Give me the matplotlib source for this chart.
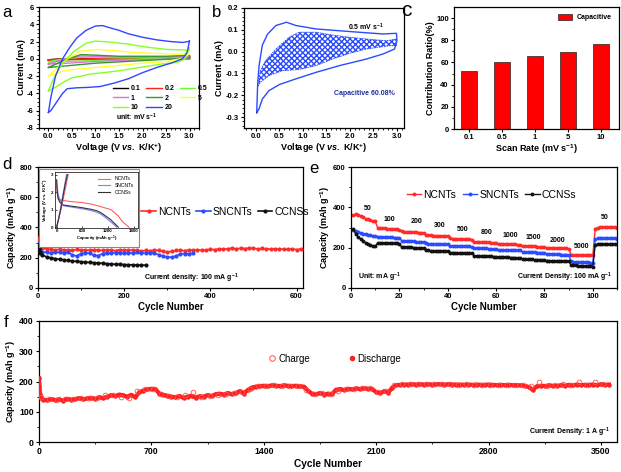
import numpy as np
import matplotlib
matplotlib.use("Agg")
import matplotlib.pyplot as plt
from matplotlib.patches import Rectangle
from matplotlib.lines import Line2D

plt.rcParams['font.family'] = ['Liberation Sans', 'DejaVu Sans']
plt.rcParams['font.weight'] = 'bold'
plt.rcParams['axes.labelweight'] = 'bold'
plt.rcParams['axes.unicode_minus'] = False
plt.rcParams['mathtext.fontset'] = 'custom'
plt.rcParams['mathtext.rm'] = 'Liberation Sans:bold'
plt.rcParams['mathtext.bf'] = 'Liberation Sans:bold'
plt.rcParams['mathtext.it'] = 'Liberation Sans:italic:bold'

# ---------------- data ----------------
# (a) CV curves at different scan rates (mV/s), closed loops
cv_rates = ['0.1', '0.2', '0.5', '1', '2', '5', '10', '20']
cv_colors = ['#000000', '#ff2020', '#66ff33', '#e070e0', '#339933', '#ffff33', '#88ff22', '#3344ff']
cv_v = {
    '0.1': [0.0, 0.3, 0.7, 1.5, 2.5, 3.0, 3.0, 2.0, 1.0, 0.3, 0.0],
    '0.2': [0.0, 0.3, 0.7, 1.5, 2.5, 3.0, 3.0, 2.0, 1.0, 0.4, 0.0],
    '0.5': [0.0, 0.3, 0.7, 1.5, 2.5, 3.0, 3.0, 2.0, 1.0, 0.4, 0.0],
    '1':   [0.0, 0.35, 0.7, 1.5, 2.5, 3.0, 3.0, 2.0, 1.0, 0.4, 0.0],
    '2':   [0.0, 0.4, 0.7, 1.5, 2.5, 3.0, 3.0, 2.0, 1.0, 0.4, 0.0],
    '5':   [0.0, 0.2, 0.4, 0.7, 1.05, 1.4, 1.8, 2.4, 2.98, 3.0, 2.9, 2.5, 2.0, 1.5, 1.0, 0.5, 0.25, 0.1, 0.0],
    '10':  [0.0, 0.1, 0.3, 0.55, 0.8, 1.0, 1.3, 1.7, 2.1, 2.5, 2.98, 3.0, 2.9, 2.75, 2.4, 2.0, 1.6, 1.25, 0.9, 0.7, 0.5, 0.35, 0.15, 0.0],
    '20':  [0.0, 0.05, 0.15, 0.3, 0.45, 0.6, 0.8, 1.0, 1.15, 1.3, 1.5, 1.7, 2.0, 2.3, 2.6, 2.85, 2.97, 3.0,
            2.95, 2.85, 2.6, 2.3, 2.0, 1.7, 1.4, 1.1, 0.85, 0.6, 0.5, 0.4, 0.3, 0.15, 0.05, 0.0],
}
cv_i = {
    '0.1': [-0.1, 0.0, 0.05, 0.05, 0.05, 0.3, 0.0, -0.02, -0.04, -0.07, -0.1],
    '0.2': [-0.15, 0.0, 0.1, 0.07, 0.05, 0.2, 0.0, -0.04, -0.07, -0.1, -0.15],
    '0.5': [-0.35, 0.0, 0.2, 0.12, 0.1, 0.2, 0.0, -0.08, -0.2, -0.3, -0.35],
    '1':   [-0.6, 0.0, 0.35, 0.2, 0.2, 0.3, 0.05, -0.1, -0.3, -0.5, -0.6],
    '2':   [-1.0, 0.0, 0.5, 0.3, 0.3, 0.4, 0.1, -0.2, -0.5, -0.8, -1.0],
    '5':   [-2.0, -1.0, 0.0, 0.9, 1.1, 0.95, 0.75, 0.6, 0.5, 0.7, 0.1, -0.3, -0.5, -0.75, -1.0, -1.25, -1.5, -1.8, -2.0],
    '10':  [-3.7, -2.4, -0.5, 0.9, 1.8, 2.05, 1.95, 1.7, 1.35, 1.1, 1.0, 1.3, 0.0, -0.4, -0.6, -0.95, -1.3, -1.55, -1.75, -2.0, -2.2, -2.6, -3.3, -3.7],
    '20':  [-6.2, -4.5, -2.0, 0.0, 1.3, 2.4, 3.3, 3.8, 3.85, 3.6, 3.3, 2.9, 2.5, 2.2, 2.0, 1.9, 2.0, 2.1,
            0.8, 0.0, -0.5, -1.0, -1.6, -2.3, -2.8, -3.2, -3.3, -3.35, -3.4, -3.45, -4.0, -5.2, -6.0, -6.2],
}

# (b) CV at 0.5 mV/s and capacitive region
b_v = [0.02, 0.04, 0.07, 0.14, 0.25, 0.43, 0.6, 0.65, 0.85, 1.28, 2.0, 2.7, 2.99, 3.0, 2.95, 2.7, 2.35,
       1.78, 1.28, 0.85, 0.5, 0.28, 0.14, 0.07, 0.02]
b_i = [-0.28, -0.15, -0.064, 0.03, 0.08, 0.12, 0.131, 0.135, 0.12, 0.104, 0.092, 0.081, 0.084, 0.05, 0.012,
       -0.011, -0.034, -0.064, -0.095, -0.125, -0.151, -0.179, -0.217, -0.262, -0.28]
cap_v = [0.04, 0.1, 0.21, 0.43, 0.71, 0.92, 1.28, 1.63, 1.99, 2.35, 2.77, 2.99, 2.99, 2.84, 2.35, 1.99,
         1.63, 1.28, 0.92, 0.57, 0.28, 0.1, 0.04]
cap_i = [-0.16, -0.087, -0.041, 0.012, 0.066, 0.089, 0.089, 0.076, 0.066, 0.058, 0.05, 0.058, 0.027, 0.027,
         0.012, -0.008, -0.034, -0.064, -0.082, -0.087, -0.11, -0.14, -0.16]

# (c) capacitive contribution
c_rates = ['0.1', '0.5', '1', '5', '10']
c_ratio = [52.1, 60.0, 66.1, 69.1, 76.7]

# (d) cycling at 100 mA/g
d_cyc_n = [1, 2, 3, 4, 5] + list(range(10, 611, 10))
d_ncnt = [330, 305, 290, 280, 272,
          262, 258, 255, 252, 256, 250, 253, 248, 255, 250,
          252, 249, 254, 251, 248, 252, 250, 247, 253, 250,
          248, 252, 249, 245, 248, 246, 250, 248, 244, 238,
          242, 248, 249, 247, 251, 250, 253, 249, 252, 255,
          254, 258, 256, 260, 262, 259, 263, 261, 264, 262,
          258, 262, 259, 257, 260, 256, 258, 255, 259, 254,
          257]
d_cyc_s = [1, 2, 3, 4, 5] + list(range(10, 361, 10))
d_sncnt = [300, 280, 265, 255, 248,
           240, 236, 234, 238, 235, 232, 236, 218, 212, 228,
           232, 230, 216, 214, 228, 232, 230, 234, 231, 229,
           233, 230, 235, 232, 229, 234, 231, 220, 212, 205,
           203, 212, 224, 228, 226, 230]
d_cyc_c = [1, 2, 3, 4, 5] + list(range(10, 251, 10))
d_ccns = [285, 262, 248, 238, 230,
          218, 206, 199, 194, 190, 186, 182, 179, 176, 174,
          171, 169, 167, 165, 163, 161, 159, 157, 156, 155,
          154, 153, 152, 151, 151]

# inset of (d): first charge/discharge profiles
ins_dis_cap_n = [0, 10, 30, 60, 150, 300, 600, 800, 960, 1100, 1270, 1430, 1550, 1690]
ins_dis_v_n = [2.7, 2.0, 1.65, 1.58, 1.52, 1.47, 1.4, 1.32, 1.22, 1.12, 1.0, 0.66, 0.28, 0.0]
ins_dis_cap_s = [0, 15, 40, 90, 155, 545, 800, 935, 1050, 1130, 1250, 1360, 1400]
ins_dis_v_s = [2.4, 2.25, 1.8, 1.5, 1.22, 1.07, 0.95, 0.85, 0.72, 0.56, 0.33, 0.1, 0.0]
ins_dis_cap_c = [0, 15, 40, 80, 155, 545, 800, 935, 1050, 1130, 1250, 1360, 1440]
ins_dis_v_c = [2.7, 2.0, 1.6, 1.4, 1.26, 1.13, 1.02, 0.94, 0.8, 0.66, 0.45, 0.19, 0.0]
ins_chg_cap_n = [0, 50, 110, 170, 230, 270]
ins_chg_cap_s = [0, 45, 95, 145, 195, 230]
ins_chg_cap_c = [0, 50, 100, 150, 205, 250]
ins_chg_v = [0.0, 0.5, 1.1, 1.8, 2.5, 3.0]

# (e) rate performance
e_cycle = list(range(1, 111))
e_ncnt = [360, 366, 363, 357, 350, 344, 340, 336, 333, 330,
          300, 298, 297, 296, 295, 294, 293, 292, 291, 289,
          281, 280, 279, 278, 277, 277, 276, 275, 275, 274,
          263, 262, 261, 260, 260, 259, 259, 258, 258, 257,
          246, 245, 244, 243, 243, 242, 242, 241, 241, 240,
          229, 228, 228, 227, 227, 226, 226, 225, 225, 225,
          219, 218, 218, 217, 217, 217, 216, 216, 215, 215,
          208, 207, 207, 206, 206, 206, 205, 205, 205, 204,
          200, 199, 199, 198, 198, 197, 197, 196, 196, 195,
          166, 165, 165, 164, 164, 163, 163, 162, 162, 162,
          295, 299, 301, 303, 304, 304, 303, 302, 301, 300]
e_sncnt = [286, 281, 277, 273, 270, 267, 264, 262, 260, 258,
           255, 254, 253, 252, 252, 251, 251, 250, 250, 249,
           234, 233, 232, 232, 231, 231, 230, 230, 229, 229,
           221, 220, 220, 219, 219, 218, 218, 218, 217, 217,
           209, 208, 208, 207, 207, 207, 206, 206, 206, 205,
           198, 197, 197, 196, 196, 196, 195, 195, 195, 194,
           190, 189, 189, 188, 188, 188, 187, 187, 187, 186,
           179, 178, 178, 177, 177, 177, 176, 176, 176, 175,
           169, 168, 168, 167, 167, 167, 166, 166, 166, 165,
           132, 131, 130, 129, 129, 128, 128, 127, 126, 125,
           242, 246, 248, 248, 248, 247, 247, 246, 246, 245]
e_ccns = [292, 266, 252, 241, 232, 224, 217, 212, 208, 206,
          222, 223, 223, 222, 222, 222, 221, 221, 221, 220,
          202, 202, 201, 201, 201, 200, 200, 200, 199, 199,
          186, 186, 185, 185, 185, 184, 184, 184, 183, 183,
          176, 176, 175, 175, 175, 174, 174, 174, 173, 173,
          159, 159, 158, 158, 158, 157, 157, 157, 156, 156,
          153, 153, 152, 152, 152, 151, 151, 151, 150, 150,
          143, 143, 142, 142, 142, 141, 141, 141, 140, 140,
          136, 136, 135, 135, 135, 134, 134, 134, 133, 133,
          114, 113, 112, 111, 111, 110, 109, 108, 107, 106,
          215, 218, 219, 219, 219, 218, 218, 218, 218, 218]
e_rate_labels = ['50', '100', '200', '300', '500', '800', '1000', '1500', '2000', '5000', '50']
e_label_x = [7, 16, 27, 36.5, 46, 56, 66, 75.5, 85.5, 95.5, 105]
e_label_y = [395, 342, 330, 308, 288, 275, 262, 250, 238, 205, 352]

# (f) long cycling at 1 A/g
f_dis_cyc = [1, 3, 6, 12] + list(range(25, 3551, 25))
f_discharge = [210, 185, 160, 145,
               140, 138, 142, 139, 141, 137, 143, 140,
               142, 145, 141, 144, 146, 143, 148, 145,
               150, 155, 152, 157, 154, 150, 156, 148,
               165, 170, 174, 176, 175, 160, 156, 153,
               150, 148, 152, 146, 150, 153, 147, 151,
               150, 155, 152, 158, 160, 157, 162, 158,
               162, 168, 160, 172, 180, 183, 185, 186,
               185, 187, 186, 185, 187, 186, 185, 186,
               184, 183, 170, 160, 158, 162, 157, 160,
               158, 173, 175, 172, 176, 174, 177, 175,
               178, 176, 175, 165, 162, 168, 163, 180,
               188, 189, 190, 190, 191, 190, 191, 190,
               191, 190, 191, 191, 190, 191, 190, 190,
               190, 189, 190, 189, 190, 189, 189, 190,
               189, 188, 189, 188, 189, 188, 188, 187,
               186, 182, 172, 184, 186, 185, 187, 186,
               185, 188, 186, 189, 187, 190, 188, 189,
               189, 190, 188, 191, 189, 190]
f_chg_cyc = list(range(12, 3551, 50))
f_charge = [150, 142, 139, 141, 143, 144, 146, 145,
            154, 156, 150, 146, 168, 176, 174, 158,
            152, 149, 155, 165, 148, 152, 156, 160,
            163, 166, 175, 185, 186, 187, 186, 185,
            185, 172, 160, 163, 158, 170, 174, 176,
            177, 178, 166, 170, 190, 191, 191, 192,
            191, 192, 191, 191, 190, 191, 190, 190,
            189, 189, 188, 188, 189, 186, 197, 185,
            188, 192, 187, 199, 190, 197, 191]

# ---------------- figure ----------------
W, H = 621, 472
fig = plt.figure(figsize=(W / 100, H / 100), dpi=100)


def px_axes(l, r, t, b):
    return fig.add_axes([l / W, 1 - b / H, (r - l) / W, (b - t) / H])


def style(ax, fs=5.5):
    ax.tick_params(which='major', direction='out', length=2.2, width=0.8, labelsize=fs, pad=1.5)
    ax.tick_params(which='minor', direction='out', length=1.2, width=0.6)
    for s in ax.spines.values():
        s.set_linewidth(0.9)


RED = '#ff2a2a'
BLUE = '#2a4bff'
BLACK = '#111111'
LBL = 6.5

# ---- (a)
ax = px_axes(39, 199, 7, 128)
lines = {}
for r, col in zip(cv_rates, cv_colors):
    lines[r], = ax.plot(cv_v[r], cv_i[r], color=col, lw=1.0, label=r)
ax.set_xlim(-0.2, 3.2)
ax.set_ylim(-8, 6)
ax.set_xticks(np.arange(0, 3.01, 0.5))
ax.set_yticks(np.arange(-8, 6.1, 2))
ax.minorticks_on()
style(ax)
ax.set_xlabel(r'Voltage (V $\mathit{vs.}$ K/K$^{+}$)', fontsize=LBL, labelpad=1)
ax.set_ylabel('Current (mA)', fontsize=LBL, labelpad=1)
order = ['0.1', '1', '10', '0.2', '2', '20', '0.5', '5']
ax.legend([lines[k] for k in order], order, ncol=3, fontsize=5, frameon=False,
          loc='upper left', bbox_to_anchor=(0.44, 0.38), handlelength=2.2,
          handletextpad=0.4, columnspacing=0.8, labelspacing=0.35, borderpad=0)
ax.text(1.43, -6.8, 'unit: mV s$^{-1}$', fontsize=5, va='center', ha='left')
fig.text(2 / W, 1 - 17 / H, 'a', fontsize=12, fontweight='normal')

# ---- (b)
ax = px_axes(244, 404, 8, 128)
ax.fill(cap_v, cap_i, facecolor='none', edgecolor='#2a4bff', hatch='xxxxxx', lw=0)
ax.plot(cap_v, cap_i, color='#2a4bff', lw=0.6, ls=(0, (2, 1)))
ax.plot(b_v, b_i, color='#2a4bff', lw=1.0)
ax.set_xlim(-0.25, 3.15)
ax.set_ylim(-0.35, 0.2)
ax.set_xticks(np.arange(0, 3.01, 0.5))
ax.set_yticks([-0.3, -0.2, -0.1, 0.0, 0.1, 0.2])
ax.set_yticklabels(['-0.3', '-0.2', '-0.1', '0.0', '0.1', '0.2'])
ax.minorticks_on()
style(ax)
ax.set_xlabel(r'Voltage (V $\mathit{vs.}$ K/K$^{+}$)', fontsize=LBL, labelpad=1)
ax.set_ylabel('Current (mA)', fontsize=LBL, labelpad=1)
ax.text(1.97, 0.11, '0.5 mV s$^{-1}$', fontsize=5, va='center', ha='left')
ax.text(1.67, -0.19, 'Capacitive 60.08%', fontsize=5, va='center', ha='left', color='#1f2f9f')
fig.text(212 / W, 1 - 17 / H, 'b', fontsize=12, fontweight='normal')

# ---- (c)
ax = px_axes(454, 619, 7, 129)
ax.bar(range(len(c_rates)), c_ratio, width=0.5, color='#ff0000', edgecolor='#222222', lw=0.5,
       label='Capacitive')
ax.set_xlim(-0.45, 4.55)
ax.set_ylim(0, 110)
ax.set_xticks(range(len(c_rates)))
ax.set_xticklabels(c_rates)
ax.set_yticks(np.arange(0, 101, 20))
ax.set_yticks(np.arange(10, 110, 20), minor=True)
style(ax)
ax.set_xlabel('Scan Rate (mV s$^{-1}$)', fontsize=LBL, labelpad=1)
ax.set_ylabel('Contribution Ratio(%)', fontsize=LBL, labelpad=1)
ax.legend(loc='upper right', fontsize=5, frameon=False, handlelength=2.0, handleheight=0.9,
          borderaxespad=0.6)
fig.text(401 / W, 1 - 16 / H, 'c', fontsize=15, fontweight='normal')

# ---- (d)
axd = px_axes(38, 303, 167, 288)
axd.plot(d_cyc_n, d_ncnt, color=RED, marker='o', ms=3.0, lw=1.2, mew=0, label='NCNTs', zorder=3)
axd.plot(d_cyc_s, d_sncnt, color=BLUE, marker='o', ms=3.0, lw=1.2, mew=0, label='SNCNTs', zorder=4)
axd.plot(d_cyc_c, d_ccns, color=BLACK, marker='o', ms=3.0, lw=1.2, mew=0, label='CCNSs', zorder=5)
axd.set_xlim(0, 615)
axd.set_ylim(0, 800)
axd.set_xticks([0, 200, 400, 600])
axd.set_xticks([100, 300, 500], minor=True)
axd.set_yticks(np.arange(0, 801, 200))
axd.set_yticks(np.arange(100, 800, 200), minor=True)
style(axd)
axd.set_xlabel('Cycle Number', fontsize=LBL + 0.5, labelpad=1)
axd.set_ylabel('Capacity (mAh g$^{-1}$)', fontsize=LBL, labelpad=1)
axd.legend(ncol=3, frameon=False, loc='center left', bbox_to_anchor=(0.37, 0.63),
           handlelength=1.4, handletextpad=0.2, columnspacing=0.5, borderpad=0,
           prop={'weight': 'normal', 'size': 7.5})
axd.text(247, 66, 'Current density: 100 mA g$^{-1}$', fontsize=5, va='center', ha='left')
axd.add_patch(Rectangle((39 / W, 1 - 247 / H), 100 / W, 78 / H, transform=fig.transFigure,
                        facecolor='white', edgecolor='#888888', lw=0.8, zorder=10, clip_on=False))
fig.text(2 / W, 1 - 169 / H, 'd', fontsize=12, fontweight='normal')

# inset
axi = px_axes(54.5, 138, 172, 228)
axi.plot(ins_dis_cap_n, ins_dis_v_n, color='#ff6060', lw=0.8, label='NCNTs')
axi.plot(ins_dis_cap_s, ins_dis_v_s, color='#7f7fff', lw=0.8, label='SNCNTs')
axi.plot(ins_dis_cap_c, ins_dis_v_c, color='#333333', lw=0.8, label='CCNSs')
axi.plot(ins_chg_cap_n, ins_chg_v, color='#ff6060', lw=0.8)
axi.plot(ins_chg_cap_s, ins_chg_v, color='#7f7fff', lw=0.8)
axi.plot(ins_chg_cap_c, ins_chg_v, color='#333333', lw=0.8)
axi.set_xlim(-50, 1900)
axi.set_ylim(-0.05, 3.15)
axi.set_xticks([0, 600, 1200, 1800])
axi.set_yticks([0, 1, 2, 3])
axi.tick_params(direction='in', length=1.2, width=0.5, labelsize=3.2, pad=1)
for s in axi.spines.values():
    s.set_linewidth(0.5)
axi.set_xlabel('Capacity (mAh g$^{-1}$)', fontsize=3.2, labelpad=0.5)
axi.set_ylabel(r'Voltage (V $\mathit{vs.}$ K/K$^{+}$)', fontsize=3.2, labelpad=0.5)
axi.legend(loc='upper right', frameon=False, handlelength=2.5, labelspacing=0.3,
           prop={'weight': 'normal', 'size': 3.6})

# ---- (e)
ax = px_axes(351, 617, 167, 288)
ax.plot(e_cycle, e_ncnt, color=RED, marker='o', ms=2.8, lw=1.0, mew=0, label='NCNTs')
ax.plot(e_cycle, e_sncnt, color=BLUE, marker='o', ms=2.8, lw=1.0, mew=0, label='SNCNTs')
ax.plot(e_cycle, e_ccns, color=BLACK, marker='o', ms=2.8, lw=1.0, mew=0, label='CCNSs')
for t, x, y in zip(e_rate_labels, e_label_x, e_label_y):
    ax.text(x, y, t, fontsize=5, ha='center', va='center')
ax.set_xlim(0, 110)
ax.set_ylim(0, 600)
ax.set_xticks(np.arange(0, 101, 20))
ax.set_xticks(np.arange(10, 111, 20), minor=True)
ax.set_yticks(np.arange(0, 601, 200))
ax.set_yticks(np.arange(100, 600, 200), minor=True)
style(ax)
ax.set_xlabel('Cycle Number', fontsize=LBL + 0.5, labelpad=1)
ax.set_ylabel('Capacity (mAh g$^{-1}$)', fontsize=LBL, labelpad=1)
ax.legend(ncol=3, frameon=False, loc='center left', bbox_to_anchor=(0.19, 0.77),
          handlelength=1.4, handletextpad=0.2, columnspacing=0.6, borderpad=0,
          prop={'weight': 'normal', 'size': 7.5})
ax.text(3, 55, 'Unit: mA g$^{-1}$', fontsize=5, va='center', ha='left')
ax.text(108, 55, 'Current Density: 100 mA g$^{-1}$', fontsize=5, va='center', ha='right')
fig.text(309 / W, 1 - 173 / H, 'e', fontsize=12, fontweight='normal')

# ---- (f)
ax = px_axes(39, 617, 321, 442)
ax.plot(f_dis_cyc, f_discharge, color='#ff2020', marker='o', ms=3.2, lw=3.0, mew=0, zorder=3)
ax.plot(f_chg_cyc, f_charge, ls='none', marker='o', ms=3.4, mfc='none', mec='#ff5050', mew=0.6,
        zorder=4)
ax.set_xlim(0, 3600)
ax.set_ylim(0, 400)
ax.set_xticks(np.arange(0, 3501, 700))
ax.set_xticks(np.arange(350, 3600, 700), minor=True)
ax.set_yticks(np.arange(0, 401, 100))
ax.set_yticks(np.arange(50, 400, 100), minor=True)
style(ax, fs=6.3)
ax.set_xlabel('Cycle Number', fontsize=7.3, labelpad=2)
ax.set_ylabel('Capacity (mAh g$^{-1}$)', fontsize=LBL, labelpad=1)
chg_h = Line2D([], [], ls='none', marker='o', ms=4, mfc='none', mec='#ff5050', mew=0.7)
dis_h = Line2D([], [], ls='none', marker='o', ms=4, color='#ff2020', mew=0)
ax.legend([chg_h, dis_h], ['Charge', 'Discharge'], ncol=2, frameon=False, loc='center left',
          bbox_to_anchor=(0.39, 0.69), handlelength=0.6, handletextpad=0.3, columnspacing=4.0,
          borderpad=0, prop={'weight': 'normal', 'size': 7})
ax.text(3560, 33, 'Current Density: 1 A g$^{-1}$', fontsize=5, va='center', ha='right')
fig.text(4 / W, 1 - 327 / H, 'f', fontsize=12, fontweight='normal')

fig.savefig('out.png', dpi=100)
